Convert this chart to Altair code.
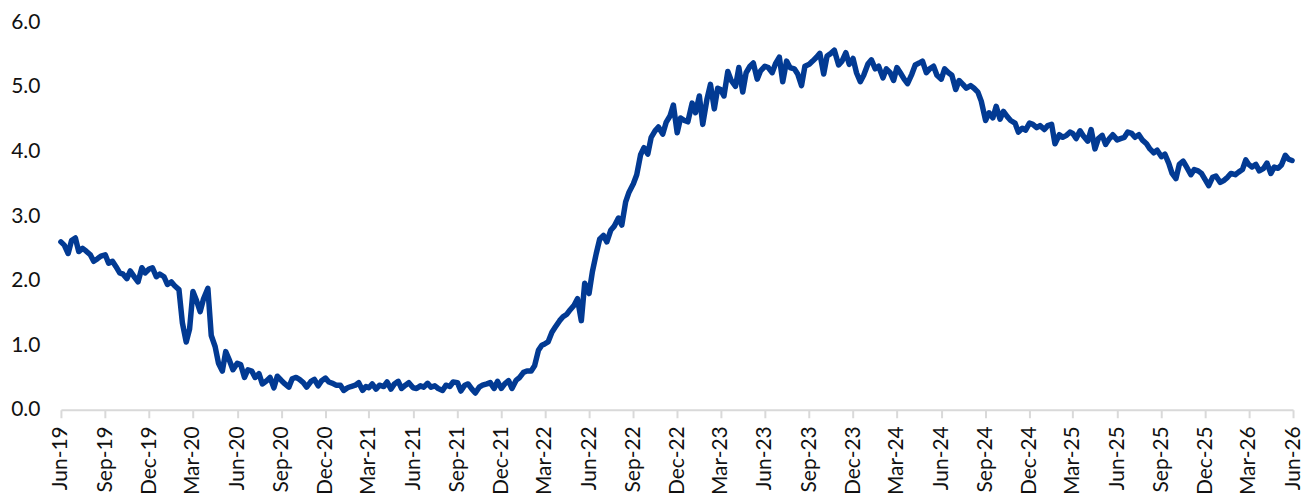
import altair as alt
import pandas as pd

# ---------------- data ----------------
# four readings per month, taken on these days of the month
SAMPLE_DAYS = [1, 8, 16, 23]
FIRST_YEAR, FIRST_MONTH = 2019, 6

v2019 = [2.60, 2.55, 2.42, 2.62,
         2.66, 2.45, 2.50, 2.46,
         2.40, 2.30, 2.34, 2.38,
         2.40, 2.27, 2.30, 2.22,
         2.12, 2.10, 2.03, 2.15,
         2.05, 1.98, 2.20, 2.12,
         2.18, 2.20, 2.06, 2.10]

v2020 = [2.06, 1.94, 1.98, 1.92,
         1.86, 1.35, 1.05, 1.25,
         1.83, 1.70, 1.52, 1.72,
         1.88, 1.15, 0.98, 0.72,
         0.60, 0.90, 0.76, 0.62,
         0.72, 0.70, 0.50, 0.62,
         0.60, 0.50, 0.56, 0.40,
         0.45, 0.50, 0.34, 0.52,
         0.45, 0.40, 0.35, 0.48,
         0.50, 0.47, 0.42, 0.35,
         0.44, 0.47, 0.37, 0.45,
         0.49, 0.43, 0.41, 0.38]

v2021 = [0.38, 0.30, 0.34, 0.36,
         0.38, 0.42, 0.30, 0.36,
         0.34, 0.40, 0.32, 0.38,
         0.36, 0.43, 0.32, 0.40,
         0.44, 0.33, 0.38, 0.42,
         0.34, 0.33, 0.37, 0.35,
         0.41, 0.35, 0.37, 0.33,
         0.30, 0.38, 0.36, 0.43,
         0.42, 0.29, 0.38, 0.40,
         0.32, 0.26, 0.35, 0.38,
         0.40, 0.42, 0.33, 0.44,
         0.33, 0.40, 0.45, 0.33]

v2022 = [0.46, 0.50, 0.58, 0.60,
         0.60, 0.68, 0.92, 1.00,
         1.02, 1.05, 1.20, 1.28,
         1.38, 1.44, 1.48, 1.55,
         1.62, 1.72, 1.38, 1.96,
         1.80, 2.14, 2.42, 2.64,
         2.70, 2.60, 2.78, 2.84,
         2.97, 2.86, 3.22, 3.37,
         3.50, 3.64, 3.95, 4.06,
         3.96, 4.22, 4.32, 4.38,
         4.27, 4.45, 4.55, 4.72,
         4.29, 4.52, 4.48, 4.46]

v2023 = [4.75, 4.60, 4.86, 4.42,
         4.82, 5.04, 4.66, 4.98,
         4.96, 4.86, 5.24, 5.10,
         5.01, 5.30, 4.92, 5.22,
         5.32, 5.37, 5.12, 5.25,
         5.32, 5.30, 5.22, 5.36,
         5.46, 5.08, 5.40, 5.30,
         5.28, 5.20, 5.02, 5.32,
         5.35, 5.40, 5.46, 5.52,
         5.20, 5.48, 5.52, 5.57,
         5.34, 5.40, 5.53, 5.35,
         5.44, 5.22, 5.08, 5.18]

v2024 = [5.36, 5.42, 5.28, 5.32,
         5.14, 5.28, 5.22, 5.10,
         5.30, 5.22, 5.12, 5.05,
         5.20, 5.34, 5.37, 5.40,
         5.22, 5.28, 5.32, 5.18,
         5.12, 5.28, 5.22, 5.18,
         4.96, 5.10, 5.04, 4.98,
         5.02, 4.98, 4.92, 4.78,
         4.48, 4.60, 4.52, 4.70,
         4.50, 4.62, 4.54, 4.48,
         4.44, 4.30, 4.36, 4.33,
         4.44, 4.42, 4.37, 4.40]

v2025 = [4.34, 4.40, 4.42, 4.12,
         4.26, 4.22, 4.25, 4.30,
         4.28, 4.20, 4.32, 4.24,
         4.16, 4.34, 4.04, 4.20,
         4.25, 4.11, 4.20, 4.26,
         4.18, 4.20, 4.22, 4.30,
         4.28, 4.22, 4.26, 4.18,
         4.12, 4.04, 3.98, 4.02,
         3.92, 3.96, 3.82, 3.66,
         3.58, 3.80, 3.85, 3.76,
         3.64, 3.72, 3.70, 3.66,
         3.56, 3.47, 3.60, 3.62]

v2026 = [3.52, 3.55, 3.60, 3.66,
         3.64, 3.68, 3.72, 3.87,
         3.80, 3.76, 3.80, 3.70,
         3.74, 3.82, 3.66, 3.76,
         3.74, 3.79, 3.94, 3.88]

LAST_DATE = "2026/05/30"
LAST_VALUE = 3.86

# axis: quarterly tick dates, Jun-19 .. Jun-26
TICK_MONTHS = [(2019 + (5 + 3 * i) // 12, (5 + 3 * i) % 12 + 1) for i in range(29)]
Y_TICKS = [0, 1, 2, 3, 4, 5, 6]

# ---------------- build table ----------------
series = v2019 + v2020 + v2021 + v2022 + v2023 + v2024 + v2025 + v2026
rows = []
yr, mo = FIRST_YEAR, FIRST_MONTH
for i in range(0, len(series), 4):
    for d, v in zip(SAMPLE_DAYS, series[i:i + 4]):
        rows.append({"date": f"{yr:04d}/{mo:02d}/{d:02d}", "value": v})
    mo += 1
    if mo > 12:
        mo = 1
        yr += 1
rows.append({"date": LAST_DATE, "value": LAST_VALUE})
df = pd.DataFrame(rows)

FONT = "Lato"
tick_values = [alt.DateTime(year=y, month=m, date=1) for y, m in TICK_MONTHS]

chart = alt.Chart(df).mark_line(
    color="#023a93", strokeWidth=5.5, strokeJoin="round", strokeCap="round"
).encode(
    x=alt.X(
        "date:T",
        scale=alt.Scale(domain=[tick_values[0], tick_values[-1]], nice=False),
        axis=alt.Axis(
            values=tick_values, format="%b-%y", labelAngle=-90,
            labelFont=FONT, labelFontSize=21, labelColor="#111111",
            labelPadding=8, labelOverlap=False, labelFlush=False,
            domainColor="#d9d9d9", domainWidth=2,
            tickColor="#d9d9d9", tickWidth=2, tickSize=8,
            grid=False, title=None,
        ),
    ),
    y=alt.Y(
        "value:Q",
        scale=alt.Scale(domain=[0, 6], nice=False),
        axis=alt.Axis(
            values=Y_TICKS, format=".1f", grid=False, domain=False,
            ticks=False, tickSize=0, labelPadding=21,
            labelFont=FONT, labelFontSize=21, labelColor="#111111", title=None,
        ),
    ),
).properties(
    width=1234, height=388,
    padding={"left": 2, "top": 3, "right": 5, "bottom": 5},
).configure(
    background="white", view=alt.ViewConfig(stroke=None)
)

chart.save("out.html", embed_options={"renderer": "svg", "actions": False})
